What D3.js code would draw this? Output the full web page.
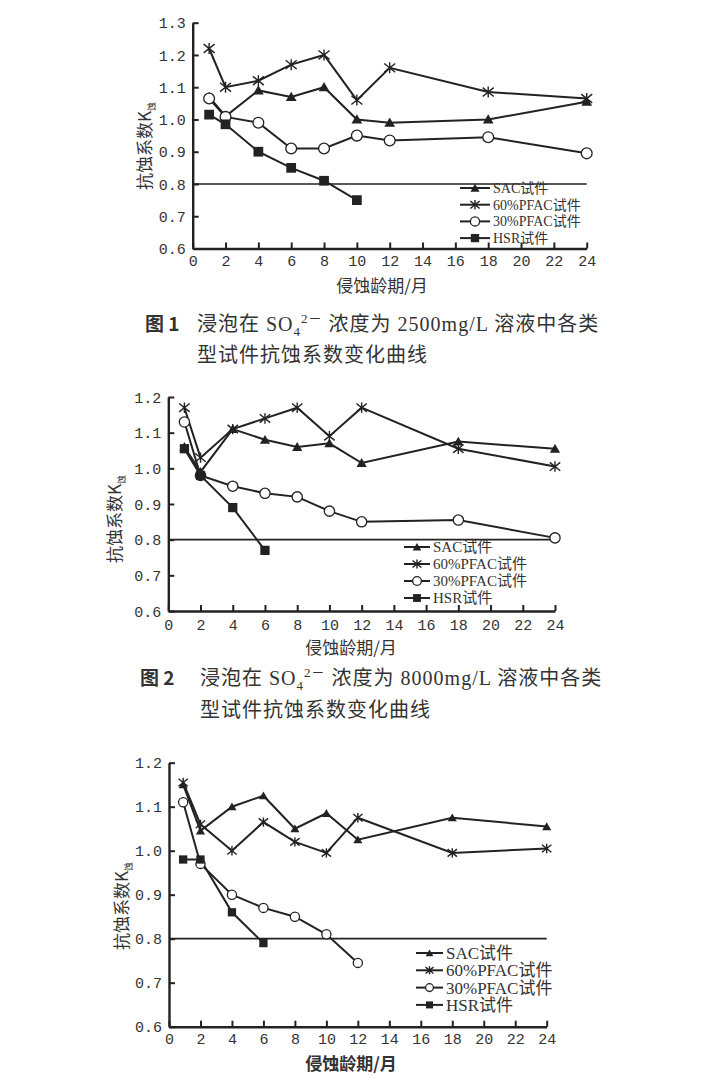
<!DOCTYPE html>
<html><head><meta charset="utf-8">
<script src="https://cdn.jsdelivr.net/npm/d3@7"></script>
<style>body{margin:0;background:#fff}
.tk text{font-family:"Liberation Mono","DejaVu Sans Mono",monospace;font-size:15px;fill:#333}
</style>
</head><body><svg id="c" width="728" height="1086"></svg>
<script>
// ---------- data ----------
const seriesNames = ["SAC试件", "60%PFAC试件", "30%PFAC试件", "HSR试件"];
const monthTicks = [0, 2, 4, 6, 8, 10, 12, 14, 16, 18, 20, 22, 24];
const months = [1, 2, 4, 6, 8, 10, 12, 18, 24];
const months3 = [0.9, 2, 4, 6, 8, 10, 12, 18, 24];
const yTicksA = [0.6, 0.7, 0.8, 0.9, 1.0, 1.1, 1.2, 1.3];
const yTicksB = [0.6, 0.7, 0.8, 0.9, 1.0, 1.1, 1.2];
const threshold = 0.8;

// Fig.1  SO4 2500 mg/L
const fig1Sac   = [1.07, 1.01, 1.09, 1.07, 1.10, 1.00, 0.99, 1.00, 1.055];
const fig1Pf60  = [1.22, 1.10, 1.12, 1.17, 1.20, 1.06, 1.16, 1.085, 1.065];
const fig1Pf30  = [1.065, 1.008, 0.99, 0.91, 0.91, 0.95, 0.935, 0.945, 0.895];
const fig1Hsr   = [1.015, 0.985, 0.90, 0.85, 0.81, 0.75];
// Fig.2  SO4 8000 mg/L
const fig2Sac   = [1.06, 0.99, 1.11, 1.08, 1.06, 1.07, 1.015, 1.075, 1.055];
const fig2Pf60  = [1.17, 1.03, 1.11, 1.14, 1.17, 1.09, 1.17, 1.055, 1.005];
const fig2Pf30  = [1.13, 0.98, 0.95, 0.93, 0.92, 0.88, 0.85, 0.855, 0.805];
const fig2Hsr   = [1.055, 0.98, 0.89, 0.77];
// Fig.3
const fig3Sac   = [1.15, 1.045, 1.10, 1.125, 1.05, 1.085, 1.025, 1.075, 1.055];
const fig3Pf60  = [1.155, 1.06, 1.00, 1.065, 1.02, 0.995, 1.075, 0.995, 1.005];
const fig3Pf30  = [1.11, 0.97, 0.90, 0.87, 0.85, 0.81, 0.745];
const fig3Hsr   = [0.98, 0.98, 0.86, 0.79];

const xTitleText = "侵蚀龄期/月";
const yTitleMain = "抗蚀系数K";
const yTitleSub = "蚀";
const cap1 = ["2500mg/L"];
const cap2 = ["8000mg/L"];

// ---------- layout ----------
const charts = [
  {x0:192.7, x1:586.7, yb:248.5, yt:22.7, ymax:1.3, yTicks:yTicksA, xs:months,
   ys:[fig1Sac, fig1Pf60, fig1Pf30, fig1Hsr],
   leg:{x:460, y:188, dy:16.7, len:30, fs:14}, xt:{x:382, y:292}, yt2:{x:145, y:146},
   bold:false, msc:1, xlab:266},
  {x0:168.3, x1:555, yb:611, yt:397, ymax:1.2, yTicks:yTicksB, xs:months,
   ys:[fig2Sac, fig2Pf60, fig2Pf30, fig2Hsr],
   leg:{x:404, y:547, dy:17, len:26, fs:15}, xt:{x:351, y:654}, yt2:{x:115, y:519},
   bold:false, msc:0.95, xlab:630},
  {x0:169, x1:546.7, yb:1026.7, yt:762.7, ymax:1.2, yTicks:yTicksB, xs:months3,
   ys:[fig3Sac, fig3Pf60, fig3Pf30, fig3Hsr],
   leg:{x:416, y:953, dy:17.3, len:27, fs:17}, xt:{x:351, y:1070}, yt2:{x:122, y:906},
   bold:true, msc:0.85, xlab:1044}
];

const svg = d3.select("#c");
svg.append("rect").attr("width",728).attr("height",1086).attr("fill","#fff");
const ink = "#222";
const markers = ["tri","star","circ","sq"];

function drawMarker(g, type, cx, cy, s) {
  if (type === "tri") {
    g.append("path").attr("d", d3.symbol(d3.symbolTriangle, 50*s*s)())
     .attr("transform", `translate(${cx},${cy+1})`).attr("fill", ink);
  } else if (type === "sq") {
    g.append("path").attr("d", d3.symbol(d3.symbolSquare, 95*s*s)())
     .attr("transform", `translate(${cx},${cy})`).attr("fill", ink);
  } else if (type === "circ") {
    g.append("circle").attr("cx", cx).attr("cy", cy).attr("r", 5.4*s)
     .attr("fill", "#fff").attr("stroke", ink).attr("stroke-width", 1.3);
  } else {
    const r = 5.5*s;
    const p = d3.path();
    p.moveTo(cx-r, cy-r*0.8); p.lineTo(cx+r, cy+r*0.8);
    p.moveTo(cx-r, cy+r*0.8); p.lineTo(cx+r, cy-r*0.8);
    p.moveTo(cx, cy-r); p.lineTo(cx, cy+r);
    g.append("path").attr("d", p.toString()).attr("stroke", ink).attr("stroke-width", 1.4).attr("fill","none");
  }
}

charts.forEach((c, ci) => {
  const x = d3.scaleLinear().domain([0, 24]).range([c.x0, c.x1]);
  const y = d3.scaleLinear().domain([0.6, c.ymax]).range([c.yb, c.yt]);
  const g = svg.append("g");

  // axes
  const xa = d3.axisBottom(x).tickValues(monthTicks).tickFormat(d3.format("d"))
    .tickSizeInner(-6).tickSizeOuter(0).tickPadding(10);
  const gx = g.append("g").attr("class", "tk").attr("transform", `translate(0,${c.yb})`).call(xa);
  const ya = d3.axisLeft(y).tickValues(c.yTicks).tickFormat(d3.format(".1f"))
    .tickSizeInner(-6).tickSizeOuter(0).tickPadding(7);
  const gy = g.append("g").attr("class", "tk").attr("transform", `translate(${c.x0},0)`).call(ya);
  [gx, gy].forEach(a => {
    a.attr("font-family", null).attr("font-size", null);
    a.selectAll("path.domain").attr("stroke", ink).attr("stroke-width", 2.4);
    a.selectAll(".tick line").attr("stroke", ink).attr("stroke-width", 2);
  });
  gx.selectAll("text").attr("dy", null).attr("y", 0)
    .attr("transform", `translate(0,${c.xlab - c.yb})`);
  gy.selectAll("text").attr("dy", "0.35em");

  // threshold line
  g.append("line").attr("x1", x(0)).attr("x2", x(24)).attr("y1", y(threshold)).attr("y2", y(threshold))
    .attr("stroke", ink).attr("stroke-width", 1.7);

  // series lines
  const line = d3.line().x(d => x(d[0])).y(d => y(d[1]));
  c.ys.forEach((vals, si) => {
    const pts = vals.map((v, i) => [c.xs[i], v]);
    g.append("path").attr("d", line(pts)).attr("fill", "none").attr("stroke", ink).attr("stroke-width", 2);
  });
  c.ys.forEach((vals, si) => {
    vals.forEach((v, i) => drawMarker(g, markers[si], x(c.xs[i]), y(v), c.msc));
  });

  // legend
  seriesNames.forEach((n, si) => {
    const ly = c.leg.y + si*c.leg.dy;
    g.append("line").attr("x1", c.leg.x).attr("x2", c.leg.x + c.leg.len).attr("y1", ly).attr("y2", ly)
      .attr("stroke", ink).attr("stroke-width", 2);
    drawMarker(g, markers[si], c.leg.x + c.leg.len/2, ly, c.msc*0.85);
    g.append("text").attr("x", c.leg.x + c.leg.len + 3).attr("y", ly).attr("dy", "0.35em")
      .attr("font-family", "Liberation Serif, Noto Sans CJK SC").attr("font-size", c.leg.fs)
      .attr("fill", "#333").text(n);
  });

  // axis titles
  g.append("text").attr("x", c.xt.x).attr("y", c.xt.y).attr("text-anchor", "middle")
    .attr("font-family", "Noto Sans CJK SC").attr("font-size", 17)
    .attr("font-weight", c.bold ? "bold" : "normal").attr("fill", "#333").text(xTitleText);
  const yt = g.append("text").attr("transform", `translate(${c.yt2.x},${c.yt2.y}) rotate(-90)`)
    .attr("text-anchor", "middle").attr("dy", "0.35em")
    .attr("font-family", "Noto Sans CJK SC").attr("font-size", 17).attr("fill", "#333");
  yt.append("tspan").text(yTitleMain);
  yt.append("tspan").attr("font-size", 9).attr("dy", "0.5em").text(yTitleSub);
});

// captions
function caption(num, conc, xNum, xText, y1, y2) {
  const ff = "Liberation Serif, Noto Sans CJK SC";
  svg.append("text").attr("x", xNum).attr("y", y1).attr("dy", "0.35em")
    .attr("font-family", "Noto Sans CJK SC").attr("font-weight", "bold").attr("font-size", 19)
    .attr("fill", "#333").text("图 " + num);
  const t = svg.append("text").attr("x", xText).attr("y", y1).attr("dy", "0.35em")
    .attr("font-family", ff).attr("font-size", 20).attr("fill", "#333").attr("letter-spacing", 1);
  t.append("tspan").text("浸泡在 SO");
  t.append("tspan").attr("font-size", 13).attr("dy", 5).text("4");
  t.append("tspan").attr("font-size", 13).attr("dy", -13).text("2－");
  t.append("tspan").attr("dy", 8).text(" 浓度为 " + conc + " 溶液中各类");
  svg.append("text").attr("x", xText).attr("y", y2).attr("dy", "0.35em")
    .attr("font-family", ff).attr("font-size", 20).attr("fill", "#333").attr("letter-spacing", 1)
    .text("型试件抗蚀系数变化曲线");
}
caption(1, cap1[0], 145, 197, 324, 355);
caption(2, cap2[0], 140, 200, 678, 710);
</script></body></html>
